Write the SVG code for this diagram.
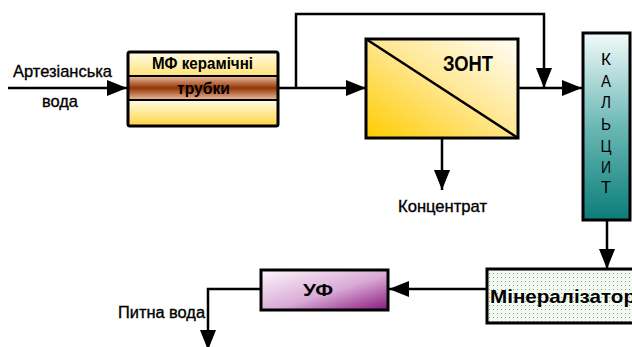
<svg xmlns="http://www.w3.org/2000/svg" width="632" height="347" viewBox="0 0 632 347">
  <style>
    .ln { fill: none; stroke: #000; stroke-width: 2.5; }
    .box { stroke: #000; stroke-width: 3; }
    .t { font-family: "Liberation Sans", Arial, sans-serif; fill: #000; }
    .n { stroke: #000; stroke-width: 0.35; }
    .b { font-weight: bold; }
  </style>
  <defs>
    <marker id="ah" markerUnits="userSpaceOnUse" markerWidth="20" markerHeight="16" refX="20" refY="8" orient="auto">
      <path d="M0,0 L20,8 L0,16 z" fill="#000"/>
    </marker>
    <linearGradient id="gTop" x1="0" y1="0" x2="0" y2="1">
      <stop offset="0" stop-color="#fffbe6"/>
      <stop offset="1" stop-color="#ffe27a"/>
    </linearGradient>
    <linearGradient id="gMid" x1="0" y1="0" x2="0" y2="1">
      <stop offset="0" stop-color="#eebfa4"/>
      <stop offset="0.5" stop-color="#943505"/>
      <stop offset="1" stop-color="#eebfa4"/>
    </linearGradient>
    <linearGradient id="gBot" x1="0" y1="0" x2="0" y2="1">
      <stop offset="0" stop-color="#fffbe6"/>
      <stop offset="1" stop-color="#ffd440"/>
    </linearGradient>
    <linearGradient id="gZont" x1="0" y1="1" x2="1" y2="0">
      <stop offset="0" stop-color="#ffcc00"/>
      <stop offset="0.55" stop-color="#ffe898"/>
      <stop offset="1" stop-color="#fffef8"/>
    </linearGradient>
    <linearGradient id="gKal" x1="0" y1="0" x2="0" y2="1">
      <stop offset="0" stop-color="#f2fafa"/>
      <stop offset="0.5" stop-color="#6bb8b5"/>
      <stop offset="1" stop-color="#0b7d79"/>
    </linearGradient>
    <linearGradient id="gUF" x1="0" y1="0" x2="1" y2="1">
      <stop offset="0" stop-color="#fdf8fd"/>
      <stop offset="0.55" stop-color="#d9aad6"/>
      <stop offset="1" stop-color="#87177c"/>
    </linearGradient>
    <pattern id="dots" patternUnits="userSpaceOnUse" width="4" height="4">
      <rect width="4" height="4" fill="#f2faf2"/>
      <rect x="1" y="1" width="1" height="1" fill="#8aa08a"/>
    </pattern>
  </defs>

  <g id="connectors">
    <path class="ln" d="M8,88 H127" marker-end="url(#ah)"/>
    <path class="ln" d="M279,88 H366" marker-end="url(#ah)"/>
    <path class="ln" d="M296,88 V14 H544 V88" marker-end="url(#ah)"/>
    <path class="ln" d="M518,88 H582" marker-end="url(#ah)"/>
    <path class="ln" d="M442,138 V190" marker-end="url(#ah)"/>
    <path class="ln" d="M607,220 V269" marker-end="url(#ah)"/>
    <path class="ln" d="M486,289 H389" marker-end="url(#ah)"/>
    <path class="ln" d="M260,289 H208 V350" marker-end="url(#ah)"/>
  </g>

  <g id="input-label">
    <text class="t n" x="13" y="77" font-size="17" textLength="99" lengthAdjust="spacingAndGlyphs">Артезіанська</text>
    <text class="t n" x="42" y="107" font-size="17" textLength="36" lengthAdjust="spacingAndGlyphs">вода</text>
  </g>

  <g id="mf">
    <rect x="128" y="52" width="150" height="24" fill="url(#gTop)"/>
    <rect x="128" y="76" width="150" height="24" fill="url(#gMid)"/>
    <rect x="128" y="100" width="150" height="26" fill="url(#gBot)"/>
    <line x1="128" y1="76" x2="278" y2="76" stroke="#000" stroke-width="2"/>
    <line x1="128" y1="100" x2="278" y2="100" stroke="#000" stroke-width="2"/>
    <rect class="box" x="128" y="52" width="150" height="74" rx="2" fill="none"/>
    <text class="t b" x="152" y="69" font-size="16" textLength="101" lengthAdjust="spacingAndGlyphs">МФ керамічні</text>
    <text class="t b" x="177" y="94" font-size="17" textLength="53" lengthAdjust="spacingAndGlyphs">трубки</text>
  </g>

  <g id="zont">
    <rect class="box" x="366" y="39" width="152" height="99" fill="url(#gZont)"/>
    <line x1="366" y1="39" x2="518" y2="138" stroke="#000" stroke-width="2.5"/>
    <text class="t b" x="443" y="71" font-size="22" textLength="50" lengthAdjust="spacingAndGlyphs">ЗОНТ</text>
  </g>

  <g id="koncentrat">
    <text class="t n" x="398" y="212" font-size="17" textLength="89" lengthAdjust="spacingAndGlyphs">Концентрат</text>
  </g>

  <g id="kalcit">
    <rect class="box" x="583" y="33" width="47" height="187" fill="url(#gKal)"/>
    <g class="t" font-size="17" text-anchor="middle">
      <text x="606" y="65" textLength="10" lengthAdjust="spacingAndGlyphs">К</text>
      <text x="606" y="87" textLength="10" lengthAdjust="spacingAndGlyphs">А</text>
      <text x="606" y="108" textLength="10" lengthAdjust="spacingAndGlyphs">Л</text>
      <text x="606" y="130" textLength="10" lengthAdjust="spacingAndGlyphs">Ь</text>
      <text x="606" y="152" textLength="11" lengthAdjust="spacingAndGlyphs">Ц</text>
      <text x="606" y="173" textLength="10" lengthAdjust="spacingAndGlyphs">И</text>
      <text x="606" y="193" textLength="10" lengthAdjust="spacingAndGlyphs">Т</text>
    </g>
  </g>

  <g id="mineralizator">
    <rect class="box" x="487" y="269" width="160" height="54" fill="url(#dots)"/>
    <text class="t b" x="490" y="303" font-size="19" textLength="146" lengthAdjust="spacingAndGlyphs">Мінералізатор</text>
  </g>

  <g id="uf">
    <rect class="box" x="261" y="270" width="127" height="40" fill="url(#gUF)"/>
    <text class="t b" x="318" y="296" font-size="17" text-anchor="middle" textLength="30" lengthAdjust="spacingAndGlyphs">УФ</text>
  </g>

  <g id="output-label">
    <text class="t n" x="118" y="318" font-size="16" textLength="87" lengthAdjust="spacingAndGlyphs">Питна вода</text>
  </g>
</svg>
